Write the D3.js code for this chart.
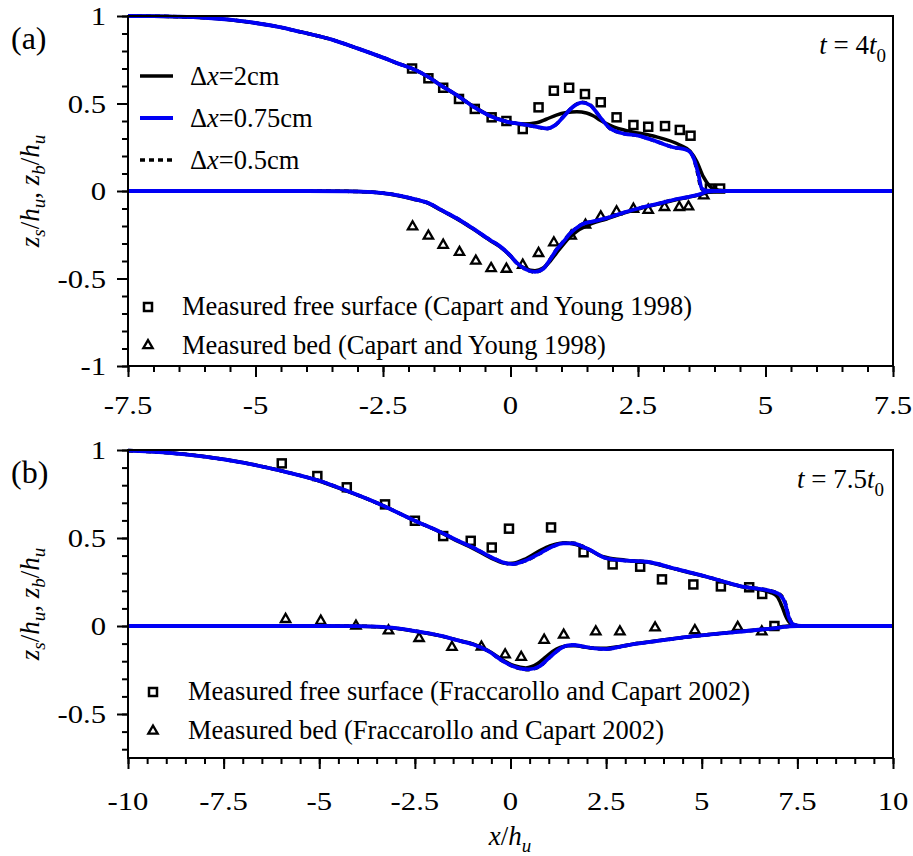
<!DOCTYPE html>
<html>
<head>
<meta charset="utf-8">
<script src="https://cdn.jsdelivr.net/npm/d3@7"></script>
<style>
  html, body { margin: 0; padding: 0; background: #fff; }
  svg { display: block; }
</style>
</head>
<body>
<svg id="chart" width="913" height="856"></svg>
<script>
// ---- data: [x/hu, z/hu] ----

// panel (a), t = 4 t0
const surfA_2cm = [[-7.5,1.0],[-7,0.999],[-6.5,0.996],[-6,0.99],[-5.5,0.979],[-5,0.96],[-4.5,0.935],[-4.13,0.91],[-3.5,0.865],[-3,0.815],[-2.5,0.762],[-2.2,0.728],[-1.93,0.7],[-1.6,0.65],[-1.38,0.606],[-1.06,0.549],[-0.73,0.484],[-0.4,0.43],[-0.08,0.398],[0.25,0.383],[0.51,0.39],[0.7,0.41],[0.9,0.434],[1.1,0.448],[1.3,0.453],[1.49,0.446],[1.62,0.43],[1.75,0.406],[2.02,0.367],[2.28,0.345],[2.8,0.314],[3.32,0.263],[3.52,0.228],[3.65,0.17],[3.78,0.082],[3.9,0.03],[3.98,0.012],[4.11,0.004],[4.3,0],[7.5,0]];
const surfA_075 = [[-7.5,1.0],[-7,0.999],[-6.5,0.996],[-6,0.99],[-5.5,0.979],[-5,0.96],[-4.5,0.935],[-4.13,0.91],[-3.5,0.865],[-3,0.815],[-2.5,0.762],[-2.2,0.728],[-1.93,0.7],[-1.6,0.65],[-1.38,0.606],[-1.06,0.549],[-0.73,0.482],[-0.4,0.429],[-0.08,0.396],[0.25,0.381],[0.51,0.367],[0.71,0.357],[0.87,0.375],[1.04,0.425],[1.23,0.482],[1.4,0.505],[1.56,0.491],[1.75,0.425],[1.95,0.358],[2.15,0.333],[2.54,0.314],[2.87,0.282],[3.19,0.25],[3.45,0.236],[3.58,0.196],[3.68,0.101],[3.75,0.015],[3.85,0.002],[4.2,0],[7.5,0]];
const surfA_05 = [[-7.5,1.0],[-7,0.999],[-6.5,0.996],[-6,0.99],[-5.5,0.979],[-5,0.96],[-4.5,0.935],[-4.13,0.91],[-3.5,0.865],[-3,0.815],[-2.5,0.762],[-2.2,0.728],[-1.93,0.7],[-1.6,0.65],[-1.38,0.606],[-1.06,0.549],[-0.73,0.482],[-0.4,0.429],[-0.08,0.396],[0.25,0.381],[0.51,0.366],[0.71,0.356],[0.87,0.374],[1.04,0.426],[1.23,0.484],[1.4,0.507],[1.56,0.492],[1.75,0.424],[1.95,0.357],[2.15,0.333],[2.54,0.314],[2.87,0.282],[3.19,0.25],[3.45,0.236],[3.58,0.195],[3.67,0.1],[3.74,0.014],[3.84,0.002],[4.2,0],[7.5,0]];

const bedA_2cm = [[-7.5,0],[-4,0],[-3.2,-0.002],[-2.8,-0.006],[-2.5,-0.013],[-2.2,-0.027],[-1.9,-0.047],[-1.6,-0.072],[-1.38,-0.107],[-1.0,-0.168],[-0.73,-0.218],[-0.4,-0.283],[-0.21,-0.318],[0,-0.372],[0.12,-0.41],[0.3,-0.445],[0.48,-0.456],[0.64,-0.44],[0.78,-0.4],[0.9,-0.355],[1.05,-0.3],[1.17,-0.262],[1.3,-0.23],[1.49,-0.2],[1.6,-0.185],[1.88,-0.16],[2.2,-0.128],[2.54,-0.1],[2.9,-0.075],[3.2,-0.053],[3.5,-0.035],[3.72,-0.02],[3.9,-0.006],[4.05,0],[7.5,0]];
const bedA_075 = [[-7.5,0],[-4,0],[-3.2,-0.002],[-2.8,-0.005],[-2.5,-0.012],[-2.2,-0.025],[-1.9,-0.045],[-1.6,-0.07],[-1.38,-0.105],[-1.0,-0.165],[-0.73,-0.215],[-0.4,-0.28],[-0.21,-0.315],[0,-0.37],[0.12,-0.41],[0.3,-0.448],[0.48,-0.462],[0.64,-0.445],[0.78,-0.39],[0.9,-0.337],[1.05,-0.285],[1.17,-0.242],[1.3,-0.21],[1.43,-0.187],[1.6,-0.175],[1.88,-0.155],[2.2,-0.125],[2.54,-0.097],[2.9,-0.072],[3.2,-0.05],[3.5,-0.033],[3.72,-0.018],[3.85,-0.003],[4.0,0],[7.5,0]];
const bedA_05 = [[-7.5,0],[-4,0],[-3.2,-0.002],[-2.8,-0.005],[-2.5,-0.012],[-2.2,-0.025],[-1.9,-0.045],[-1.6,-0.07],[-1.38,-0.105],[-1.0,-0.165],[-0.73,-0.215],[-0.4,-0.28],[-0.21,-0.315],[0,-0.37],[0.12,-0.41],[0.3,-0.449],[0.48,-0.463],[0.64,-0.446],[0.78,-0.389],[0.9,-0.335],[1.05,-0.283],[1.17,-0.241],[1.3,-0.209],[1.43,-0.186],[1.6,-0.175],[1.88,-0.155],[2.2,-0.125],[2.54,-0.097],[2.9,-0.072],[3.2,-0.05],[3.5,-0.033],[3.72,-0.018],[3.85,-0.003],[4.0,0],[7.5,0]];

const measSurfA = [[-1.93,0.70],[-1.61,0.644],[-1.32,0.59],[-1.01,0.526],[-0.70,0.469],[-0.37,0.421],[-0.08,0.40],[0.24,0.354],[0.55,0.478],[0.85,0.573],[1.15,0.59],[1.46,0.554],[1.77,0.507],[2.08,0.421],[2.41,0.377],[2.70,0.367],[3.03,0.371],[3.32,0.349],[3.53,0.316],[3.91,0.014],[4.11,0.014]];
const measBedA = [[-1.92,-0.204],[-1.61,-0.257],[-1.32,-0.309],[-1.0,-0.35],[-0.68,-0.40],[-0.38,-0.442],[-0.08,-0.446],[0.24,-0.423],[0.55,-0.356],[0.85,-0.295],[1.19,-0.257],[1.47,-0.194],[1.77,-0.147],[2.08,-0.118],[2.41,-0.103],[2.70,-0.109],[3.02,-0.093],[3.31,-0.093],[3.49,-0.09],[3.79,-0.027]];

// panel (b), t = 7.5 t0
const surfB_2cm = [[-10,0.997],[-9,0.986],[-8,0.963],[-7,0.929],[-6,0.882],[-5,0.824],[-4.28,0.767],[-3.5,0.7],[-2.5,0.598],[-1.84,0.533],[-1.4,0.483],[-0.97,0.44],[-0.45,0.38],[-0.1,0.355],[0.05,0.356],[0.4,0.382],[0.77,0.428],[1.03,0.455],[1.3,0.47],[1.5,0.472],[1.75,0.46],[2.0,0.44],[2.4,0.395],[3.0,0.374],[3.56,0.363],[4.26,0.326],[5.13,0.279],[6.0,0.226],[6.8,0.19],[6.98,0.165],[7.1,0.11],[7.22,0.044],[7.35,0.01],[7.6,0],[10,0]];
const surfB_075 = [[-10,0.996],[-9,0.985],[-8,0.962],[-7,0.928],[-6,0.882],[-5,0.825],[-4.28,0.768],[-3.5,0.7],[-2.5,0.598],[-1.84,0.535],[-1.4,0.487],[-0.97,0.445],[-0.45,0.385],[-0.1,0.356],[0.05,0.352],[0.4,0.372],[0.77,0.413],[1.1,0.452],[1.38,0.47],[1.64,0.47],[1.85,0.455],[2.08,0.432],[2.51,0.385],[3.04,0.371],[3.56,0.365],[4.26,0.328],[5.13,0.28],[6.0,0.227],[6.87,0.195],[7.05,0.176],[7.18,0.129],[7.27,0.053],[7.39,0.01],[7.6,0],[10,0]];
const surfB_05 = [[-10,0.996],[-9,0.985],[-8,0.962],[-7,0.928],[-6,0.882],[-5,0.825],[-4.28,0.768],[-3.5,0.7],[-2.5,0.598],[-1.84,0.535],[-1.4,0.487],[-0.97,0.445],[-0.45,0.385],[-0.1,0.356],[0.05,0.351],[0.4,0.371],[0.77,0.412],[1.1,0.452],[1.38,0.471],[1.64,0.471],[1.85,0.456],[2.08,0.432],[2.51,0.385],[3.04,0.371],[3.56,0.365],[4.26,0.328],[5.13,0.28],[6.0,0.227],[6.87,0.196],[7.06,0.177],[7.19,0.128],[7.28,0.052],[7.4,0.01],[7.6,0],[10,0]];

const bedB_2cm = [[-10,0],[-7,0],[-5,0],[-4,-0.001],[-3.5,-0.004],[-3,-0.013],[-2.45,-0.032],[-1.84,-0.056],[-1.32,-0.084],[-0.97,-0.103],[-0.6,-0.138],[-0.19,-0.195],[0.1,-0.226],[0.4,-0.238],[0.7,-0.215],[0.9,-0.18],[1.1,-0.145],[1.3,-0.122],[1.5,-0.112],[1.7,-0.112],[1.95,-0.12],[2.2,-0.126],[2.51,-0.126],[2.86,-0.116],[3.3,-0.1],[3.56,-0.092],[4.69,-0.06],[6.0,-0.031],[6.87,-0.012],[7.2,-0.002],[7.4,0],[10,0]];
const bedB_075 = [[-10,0],[-7,0],[-5,0],[-4,-0.001],[-3.5,-0.004],[-3,-0.012],[-2.45,-0.03],[-1.84,-0.055],[-1.32,-0.085],[-0.97,-0.105],[-0.6,-0.14],[-0.19,-0.2],[0.1,-0.232],[0.47,-0.247],[0.77,-0.228],[0.94,-0.195],[1.12,-0.16],[1.29,-0.13],[1.47,-0.112],[1.64,-0.108],[1.91,-0.117],[2.2,-0.127],[2.51,-0.131],[2.86,-0.118],[3.3,-0.1],[3.56,-0.093],[4.69,-0.061],[6.0,-0.032],[6.87,-0.013],[7.3,-0.002],[7.5,0],[10,0]];
const bedB_05 = [[-10,0],[-7,0],[-5,0],[-4,-0.001],[-3.5,-0.004],[-3,-0.012],[-2.45,-0.03],[-1.84,-0.055],[-1.32,-0.085],[-0.97,-0.105],[-0.6,-0.141],[-0.19,-0.201],[0.1,-0.233],[0.47,-0.248],[0.77,-0.229],[0.94,-0.196],[1.12,-0.16],[1.29,-0.13],[1.47,-0.112],[1.64,-0.108],[1.91,-0.117],[2.2,-0.127],[2.51,-0.131],[2.86,-0.118],[3.3,-0.1],[3.56,-0.093],[4.69,-0.061],[6.0,-0.032],[6.87,-0.013],[7.3,-0.002],[7.5,0],[10,0]];

const measSurfB = [[-5.98,0.924],[-5.05,0.852],[-4.28,0.788],[-3.28,0.691],[-2.5,0.598],[-1.76,0.511],[-1.04,0.484],[-0.49,0.446],[-0.04,0.553],[1.06,0.56],[1.91,0.419],[2.67,0.35],[3.39,0.337],[3.96,0.265],[4.78,0.236],[5.5,0.225],[6.24,0.22],[6.58,0.182],[6.9,0.0]];
const measBedB = [[-5.88,0.038],[-4.96,0.028],[-4.04,0],[-3.19,-0.027],[-2.39,-0.07],[-1.53,-0.12],[-0.76,-0.119],[-0.14,-0.163],[0.28,-0.177],[0.88,-0.08],[1.39,-0.051],[2.23,-0.032],[2.86,-0.032],[3.78,-0.01],[4.82,-0.025],[5.94,-0.007],[6.57,-0.032]];

// ticks
const xTicksA = [-7.5, -5, -2.5, 0, 2.5, 5, 7.5];
const xTickLabelsA = ['-7.5', '-5', '-2.5', '0', '2.5', '5', '7.5'];
const yTicksA = [-1, -0.5, 0, 0.5, 1];
const yTickLabelsA = ['-1', '-0.5', '0', '0.5', '1'];
const xTicksB = [-10, -7.5, -5, -2.5, 0, 2.5, 5, 7.5, 10];
const xTickLabelsB = ['-10', '-7.5', '-5', '-2.5', '0', '2.5', '5', '7.5', '10'];
const yTicksB = [-0.5, 0, 0.5, 1];
const yTickLabelsB = ['-0.5', '0', '0.5', '1'];

const lineLabels = ['2cm', '0.75cm', '0.5cm'];
const measLabelsA = ['Measured free surface (Capart and Young 1998)', 'Measured bed (Capart and Young 1998)'];
const measLabelsB = ['Measured free surface (Fraccarollo and Capart 2002)', 'Measured bed (Fraccarollo and Capart 2002)'];

// ---- drawing ----
const svg = d3.select('#chart');
const FONT = "'Liberation Serif', 'Times New Roman', Times, serif";
const BLUE = '#0000f5';
const L = 128, R = 893;

// write text made of parts (italic / subscript) into a text element
function rich(text, parts, subSize, subShift) {
    let off = 0;
    parts.forEach(p => {
        const target = p.sub ? subShift : 0;
        const ts = text.append('tspan').text(p.t).attr('dy', target - off);
        off = target;
        if (p.i) ts.attr('font-style', 'italic');
        if (p.sub) ts.attr('font-size', subSize);
    });
}

function drawPanel(cfg) {
    const x = d3.scaleLinear().domain(cfg.xDomain).range([L, R]);
    const y = d3.scaleLinear().domain(cfg.yDomain).range([cfg.bottom, cfg.top]);
    const g = svg.append('g');

    // ticks (outward, left and bottom only)
    const tick = (axis, tr) => g.append('g').attr('transform', tr).call(axis)
        .call(s => s.select('.domain').remove())
        .call(s => s.selectAll('line').attr('stroke', '#000').attr('stroke-width', 2));
    tick(d3.axisBottom(x).tickValues(d3.range(cfg.xDomain[0], cfg.xDomain[1] + 0.01, 0.5)).tickSize(6).tickFormat(''), `translate(0,${cfg.bottom})`);
    tick(d3.axisBottom(x).tickValues(cfg.xTicks).tickSize(11).tickFormat(''), `translate(0,${cfg.bottom})`);
    tick(d3.axisLeft(y).tickValues(d3.range(cfg.yMinorStart, cfg.yDomain[1] + 0.01, 0.1)).tickSize(6).tickFormat(''), `translate(${L},0)`);
    tick(d3.axisLeft(y).tickValues(cfg.yTicks).tickSize(11).tickFormat(''), `translate(${L},0)`);

    // tick labels (figure uses wide serif digits)
    cfg.xTicks.forEach((v, i) => {
        g.append('text').attr('transform', `translate(${x(v)},${cfg.xLabelY}) scale(1.18,1)`)
            .attr('text-anchor', 'middle').attr('font-family', FONT).attr('font-size', 26)
            .text(cfg.xLabels[i]);
    });
    cfg.yTicks.forEach((v, i) => {
        g.append('text').attr('transform', `translate(106,${y(v) + 9}) scale(1.18,1)`)
            .attr('text-anchor', 'end').attr('font-family', FONT).attr('font-size', 26)
            .text(cfg.yLabels[i]);
    });

    // measured markers
    g.selectAll('.sq').data(cfg.measSurf).join('rect')
        .attr('x', d => x(d[0]) - 4).attr('y', d => y(d[1]) - 4)
        .attr('width', 8).attr('height', 8)
        .attr('fill', 'none').attr('stroke', '#000').attr('stroke-width', 2.5);
    const tri = d3.symbol(d3.symbolTriangle, 38);
    g.selectAll('.tri').data(cfg.measBed).join('path')
        .attr('d', tri).attr('transform', d => `translate(${x(d[0])},${y(d[1])})`)
        .attr('fill', 'none').attr('stroke', '#000').attr('stroke-width', 2.3);

    // simulated profiles
    const line = d3.line().x(d => x(d[0])).y(d => y(d[1])).curve(d3.curveMonotoneX);
    const series = [
        { data: [cfg.surf2, cfg.bed2], color: '#000', w: 3.5, dash: null },
        { data: [cfg.surf05, cfg.bed05], color: '#000', w: 3.5, dash: '5,4' },
        { data: [cfg.surf075, cfg.bed075], color: BLUE, w: 3.8, dash: null }
    ];
    series.forEach(s => s.data.forEach(d => {
        g.append('path').datum(d).attr('d', line)
            .attr('fill', 'none').attr('stroke', s.color).attr('stroke-width', s.w)
            .attr('stroke-dasharray', s.dash);
    }));

    // frame
    g.append('rect').attr('x', L).attr('y', cfg.top).attr('width', R - L).attr('height', cfg.bottom - cfg.top)
        .attr('fill', 'none').attr('stroke', '#000').attr('stroke-width', 2);

    // panel letter
    g.append('text').attr('x', 11).attr('y', cfg.top + 33).attr('font-family', FONT).attr('font-size', 32)
        .text(cfg.letter);

    // time label
    const tl = g.append('text').attr('x', cfg.timeX).attr('y', cfg.top + 38).attr('text-anchor', 'end')
        .attr('font-family', FONT).attr('font-size', 27);
    rich(tl, [{ t: 't', i: true }, { t: ' = ' + cfg.timeVal }, { t: 't', i: true }, { t: '0', sub: true }], 19, 8);

    // y axis title
    const yl = g.append('text').attr('transform', `translate(39,${(cfg.top + cfg.bottom) / 2}) rotate(-90)`)
        .attr('text-anchor', 'middle').attr('font-family', FONT).attr('font-size', 27);
    rich(yl, [
        { t: 'z', i: true }, { t: 's', i: true, sub: true }, { t: '/' }, { t: 'h', i: true }, { t: 'u', i: true, sub: true },
        { t: ', ' }, { t: 'z', i: true }, { t: 'b', i: true, sub: true }, { t: '/' }, { t: 'h', i: true }, { t: 'u', i: true, sub: true }
    ], 19, 6);

    // legend for measured data
    const lg = cfg.measLegend;
    cfg.measLabels.forEach((lab, i) => {
        const cy = lg.y0 + i * lg.dy;
        if (i === 0) {
            g.append('rect').attr('x', lg.mx - 4).attr('y', cy - 4).attr('width', 8).attr('height', 8)
                .attr('fill', 'none').attr('stroke', '#000').attr('stroke-width', 2.5);
        } else {
            g.append('path').attr('d', tri).attr('transform', `translate(${lg.mx},${cy})`)
                .attr('fill', 'none').attr('stroke', '#000').attr('stroke-width', 2.3);
        }
        g.append('text').attr('x', lg.tx).attr('y', cy + 8).attr('font-family', FONT).attr('font-size', 26.5).text(lab);
    });

    return { x, y, g };
}

const pa = drawPanel({
    letter: '(a)', top: 16, bottom: 366, xDomain: [-7.5, 7.5], yDomain: [-1, 1], yMinorStart: -1,
    xTicks: xTicksA, xLabels: xTickLabelsA, yTicks: yTicksA, yLabels: yTickLabelsA, xLabelY: 414,
    surf2: surfA_2cm, surf075: surfA_075, surf05: surfA_05, bed2: bedA_2cm, bed075: bedA_075, bed05: bedA_05,
    measSurf: measSurfA, measBed: measBedA, timeVal: '4', timeX: 886,
    measLabels: measLabelsA, measLegend: { mx: 148, tx: 182, y0: 307, dy: 38.5 }
});

drawPanel({
    letter: '(b)', top: 450, bottom: 758, xDomain: [-10, 10], yDomain: [-0.75, 1], yMinorStart: -0.7,
    xTicks: xTicksB, xLabels: xTickLabelsB, yTicks: yTicksB, yLabels: yTickLabelsB, xLabelY: 810,
    surf2: surfB_2cm, surf075: surfB_075, surf05: surfB_05, bed2: bedB_2cm, bed075: bedB_075, bed05: bedB_05,
    measSurf: measSurfB, measBed: measBedB, timeVal: '7.5', timeX: 884,
    measLabels: measLabelsB, measLegend: { mx: 153, tx: 188, y0: 692, dy: 39 }
});

// line legend in panel (a)
const lineStyles = [{ c: '#000', dash: null, w: 3.5 }, { c: BLUE, dash: null, w: 3.8 }, { c: '#000', dash: '5,4', w: 3.5 }];
lineLabels.forEach((lab, i) => {
    const ly = 76 + i * 42;
    pa.g.append('line').attr('x1', 140).attr('x2', 173).attr('y1', ly).attr('y2', ly)
        .attr('stroke', lineStyles[i].c).attr('stroke-width', lineStyles[i].w).attr('stroke-dasharray', lineStyles[i].dash);
    const t = pa.g.append('text').attr('x', 190).attr('y', ly + 9).attr('font-family', FONT).attr('font-size', 26.5);
    rich(t, [{ t: '\u0394' }, { t: 'x', i: true }, { t: '=' + lab }], 18, 0);
});

// x axis title
const xt = svg.append('text').attr('x', 510).attr('y', 845).attr('text-anchor', 'middle')
    .attr('font-family', FONT).attr('font-size', 27);
rich(xt, [{ t: 'x', i: true }, { t: '/' }, { t: 'h', i: true }, { t: 'u', i: true, sub: true }], 19, 7);
</script>
</body>
</html>
